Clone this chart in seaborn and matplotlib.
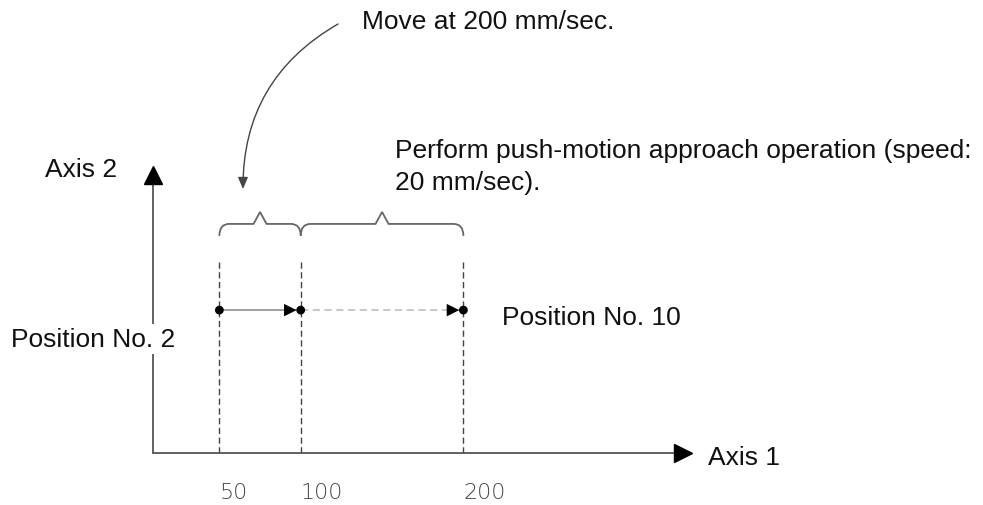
import matplotlib

matplotlib.use("Agg")

import numpy as np
import pandas as pd
import seaborn as sns
from matplotlib import pyplot as plt
from matplotlib.path import Path
from matplotlib.patches import PathPatch


# positions along axis 1 (mm) and their labels
stop_mm = [50, 100, 200]
tick_labels = ["50", "100", "200"]
start_label = "Position No. 2"
end_label = "Position No. 10"
move_speed = 200
push_speed = 20

sns.set_style("white")
plt.rcParams["font.family"] = ["Liberation Sans", "DejaVu Sans"]

W, H = 983, 506
fig = plt.figure(figsize=(W / 100, H / 100), dpi=100)
# axes box in pixels: y axis at x=153, x axis at y=454
ax = fig.add_axes([153 / W, (H - 454) / H, 530 / W, 278 / H])
ax.set_xlim(9.2, 335)
ax.set_ylim(0, 1)
sns.despine(ax=ax, left=True, bottom=True)
ax.set_yticks([])

axis_color = "#555555"
row_y = 0.514

# axes with arrow heads
ax.plot([0, 0.99], [0, 0], transform=ax.transAxes, color=axis_color, lw=1.3, clip_on=False)
ax.plot([0, 0], [0, 0.98], transform=ax.transAxes, color=axis_color, lw=1.3, clip_on=False)
ax.plot([1.0], [0], transform=ax.transAxes, marker=">", ms=13.5, color="black", clip_on=False)
ax.plot([0], [1.0], transform=ax.transAxes, marker="^", ms=13.5, color="black", clip_on=False)

# dashed verticals
for x in stop_mm:
    ax.plot([x, x], [0, 0.698], color="#444444", lw=1, ls=(0, (4.5, 2.5)))

# movement segments
seg = pd.DataFrame({"x": stop_mm, "y": [row_y] * len(stop_mm)})
ax.plot(seg["x"][:2], seg["y"][:2], color="#999999", lw=1.3)
ax.plot(seg["x"][1:], seg["y"][1:], color="#c4c4c4", lw=1.3, ls=(0, (4, 2.5)))
for i in range(1, len(stop_mm)):
    ax.annotate("", xy=(stop_mm[i], row_y), xytext=(stop_mm[i] - 12, row_y),
                arrowprops=dict(arrowstyle="-|>,head_length=0.9,head_width=0.45",
                                color="black", lw=0, shrinkA=0, shrinkB=3))
sns.scatterplot(data=seg, x="x", y="y", color="black", s=40, ax=ax, zorder=5,
                edgecolor="none", legend=False)
ax.set_xlabel("")
ax.set_ylabel("")


def brace(x0, x1, yb, ym, yt, r=6.0, t=4.0):
    xc = (x0 + x1) / 2
    verts = [(x0, yb), (x0, ym), (x0 + r, ym), (xc - t, ym), (xc, yt), (xc + t, ym),
             (x1 - r, ym), (x1, ym), (x1, yb)]
    codes = [Path.MOVETO, Path.CURVE3, Path.CURVE3, Path.LINETO, Path.LINETO, Path.LINETO,
             Path.LINETO, Path.CURVE3, Path.CURVE3]
    ax.add_patch(PathPatch(Path(verts, codes), fill=False, edgecolor="#666666", lw=1.3,
                           clip_on=False))


for a, b in zip(stop_mm[:-1], stop_mm[1:]):
    brace(a, b, 0.781, 0.824, 0.867)

# ticks, left aligned on the dashed lines
ax.set_xticks(stop_mm)
ax.set_xticklabels(tick_labels, fontsize=16, color="#444444", ha="left",
                   family=["DejaVu Sans"], fontweight="light")
ax.tick_params(axis="x", length=0, pad=21)

# texts
fs = 19


def label(x, y, s, **kw):
    fig.text(x / W, 1 - y / H, s, fontsize=fs, va="baseline", color="#111111", **kw)


label(362, 29, f"Move at {move_speed} mm/sec.")
label(395, 158, "Perform push-motion approach operation (speed:")
label(395, 190, f"{push_speed} mm/sec).")
label(45, 177, "Axis 2")
label(708, 465, "Axis 1")
label(502, 325, end_label)
label(11, 347, start_label, bbox=dict(facecolor="white", edgecolor="none", pad=2))

# curved arrow from the speed note down to the first interval
ax.annotate("", xy=(243 / W, 1 - 190 / H), xytext=(338 / W, 1 - 25 / H),
            xycoords="figure fraction", textcoords="figure fraction",
            arrowprops=dict(arrowstyle="-|>,head_length=0.7,head_width=0.3",
                            connectionstyle="arc3,rad=0.29", color="#444444", lw=1,
                            shrinkA=0, shrinkB=0))

fig.savefig("out.png", dpi=100)
